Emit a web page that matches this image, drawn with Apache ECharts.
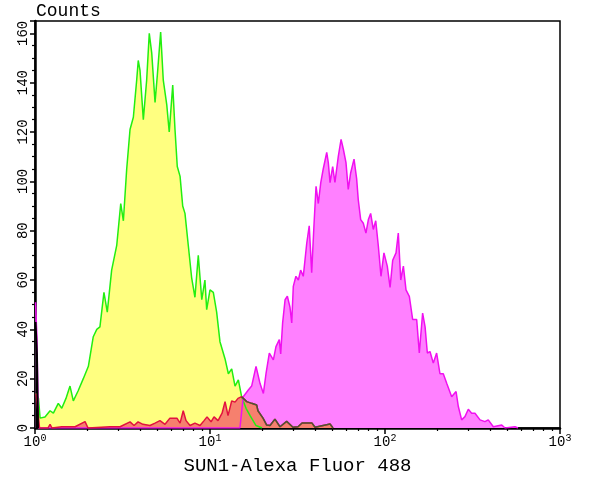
<!DOCTYPE html>
<html><head><meta charset="utf-8">
<script src="https://cdn.jsdelivr.net/npm/echarts@6/dist/echarts.min.js"></script>
<style>html,body{margin:0;padding:0;background:#fff}#c{width:600px;height:480px}</style>
</head><body><div id="c"></div>
<script>
// x values are log10(fluorescence), counts are events per channel
const decades = [0, 1, 2, 3];
const minorMultipliers = [2, 3, 4, 5, 6, 7, 8, 9];

const yellowX = [0.006,0.020,0.029,0.057,0.086,0.105,0.133,0.153,0.177,0.200,0.219,0.246,0.276,0.305,0.333,0.353,0.371,0.394,0.413,0.438,0.467,0.490,0.505,0.524,0.543,0.562,0.581,0.590,0.600,0.619,0.638,0.653,0.667,0.686,0.699,0.718,0.733,0.753,0.767,0.787,0.800,0.813,0.829,0.844,0.857,0.876,0.895,0.914,0.933,0.953,0.971,0.981,1.000,1.019,1.038,1.057,1.086,1.105,1.124,1.143,1.162,1.181,1.206,1.229,1.263,1.297];
const yellowY = [14,12,4,4.5,7,6,10,8,12,17,11,15,20,25,37,40,41,55,47,64,74,91,84,105,121,126,141,149,145,125,141,160,152,132,143,160.5,141,131,120,139,121,106,102,90,87,74,61,53,70,52,60,48,56,55,47,35,28,22,24,17,19.5,12.6,8,5,1,0];

const magentaX = [0.003,0.011,0.020,1.171,1.190,1.219,1.238,1.263,1.286,1.305,1.320,1.339,1.362,1.377,1.396,1.404,1.415,1.429,1.442,1.457,1.467,1.476,1.491,1.505,1.518,1.533,1.553,1.567,1.581,1.594,1.606,1.619,1.633,1.647,1.667,1.676,1.686,1.701,1.714,1.733,1.749,1.762,1.777,1.790,1.804,1.823,1.838,1.847,1.861,1.876,1.891,1.905,1.918,1.933,1.947,1.962,1.977,1.994,2.013,2.029,2.044,2.063,2.076,2.090,2.105,2.120,2.139,2.158,2.181,2.196,2.215,2.229,2.242,2.257,2.276,2.295,2.314,2.333,2.353,2.381,2.406,2.419,2.438,2.457,2.476,2.495,2.514,2.543,2.571,2.590,2.619,2.667,2.686,2.743,2.760];
const magentaY = [51,37,0,0,12.7,15.4,17,25,18,14,22,30.4,27.6,33,35.8,30,42.6,52,53.4,49,42.6,57.4,61.5,60,64,61.5,75,82,63,82,98,91,99.5,105,111.7,107.6,99.5,106,99.6,110,117,113,107.6,96.7,103.5,109,101,92.7,84.5,83,79,84.5,87,80.5,84,73.7,61.5,71,65.6,57,68,71,79,60,65.6,56,53.4,44,44,30.4,46.6,41,30.4,31,26.3,30.4,22,22,18,12.7,14.8,8.7,3.3,4.6,7.6,6,6,3.3,2.6,3.3,0.5,1.2,0,0.5,0];

const redX = [0.006,0.017,0.026,0.074,0.086,0.097,0.153,0.229,0.286,0.303,0.429,0.486,0.543,0.566,0.589,0.617,0.657,0.686,0.714,0.743,0.771,0.811,0.829,0.847,0.863,0.886,0.914,0.943,0.966,0.983,1.006,1.023,1.046,1.069,1.086,1.103,1.124,1.143,1.160,1.181,1.210,1.238,1.267,1.274,1.303,1.324,1.343,1.371,1.400,1.438,1.474,1.503,1.526,1.583,1.600,1.686,1.703];
const redY = [14,14,0,0,1.5,0,0.5,0.5,2.6,0,0.5,0.5,2.5,1,2.5,1.5,1,2,3,1.5,4,4,2,7,3,1,2,1,3,4.5,2.5,4.5,3,6,10.7,5,11,10.5,12,12.7,10.7,10,9.3,7,4,1.2,1,3.6,0.5,2.7,0.3,0.5,2,2,0.3,1.6,0];
const redDarkFrom = 1.181; // where the outline of the control histogram turns dark

const blackX = [0.003, 0.011, 0.017];
const blackY = [43, 30, 0];

function pairs(xs, ys) { return xs.map((x, i) => [x, ys[i]]); }

const FONT = 'Liberation Mono';
const chart = echarts.init(document.getElementById('c'));
const minorTicks = [];
decades.slice(0, 3).forEach(d => minorMultipliers.forEach(m => minorTicks.push(d + Math.log10(m))));

function histSeries(name, data, lineColor, fillColor, width) {
  const s = {
    name, type: 'line', data, showSymbol: false, symbol: 'none',
    lineStyle: { color: lineColor, width: width || 1.5 },
    itemStyle: { color: lineColor },
    animation: false
  };
  if (fillColor) s.areaStyle = { color: fillColor, opacity: 1 };
  return s;
}

const redPairs = pairs(redX, redY);
const redDark = redPairs.filter(p => p[0] >= redDarkFrom);

chart.setOption({
  animation: false,
  backgroundColor: '#fff',
  title: {
    text: 'Counts', left: 31, top: -3,
    textStyle: { fontFamily: FONT, fontSize: 18, fontWeight: 'normal', color: '#000' }
  },
  grid: { left: 35, right: 40, top: 21, bottom: 52, show: true, borderColor: '#000', borderWidth: 1.5, backgroundColor: 'transparent' },
  xAxis: [{
    type: 'value', min: 0, max: 3, interval: 1,
    name: 'SUN1-Alexa Fluor 488', nameLocation: 'middle', nameGap: 28,
    nameTextStyle: { fontFamily: FONT, fontSize: 19, color: '#000' },
    axisLine: { show: true, lineStyle: { color: '#000', width: 2.5 } },
    axisTick: { show: true, length: 6, lineStyle: { color: '#000', width: 1.5 } },
    splitLine: { show: false },
    axisLabel: {
      margin: 5, color: '#000', fontFamily: FONT,
      formatter: v => '{b|10}{s|' + v + '}',
      rich: {
        b: { fontFamily: FONT, fontSize: 14, color: '#000' },
        s: { fontFamily: FONT, fontSize: 10, color: '#000', padding: [0, 0, 9, 0] }
      }
    }
  }, {
    type: 'value', min: 0, max: 3, position: 'bottom', gridIndex: 0,
    axisLine: { show: false },
    axisLabel: { show: false },
    splitLine: { show: false },
    axisTick: { show: true, length: 3, customValues: minorTicks, lineStyle: { color: '#000', width: 1.2 } }
  }],
  yAxis: {
    type: 'value', min: 0, max: 165, interval: 20,
    axisLine: { show: true, lineStyle: { color: '#000', width: 2.5 } },
    axisTick: { show: true, length: 5, lineStyle: { color: '#000', width: 1.5 } },
    minorTick: { show: true, splitNumber: 4, length: 3, lineStyle: { color: '#000', width: 1.2 } },
    splitLine: { show: false },
    axisLabel: { rotate: 90, margin: 5, color: '#000', fontFamily: FONT, fontSize: 14, showMaxLabel: false }
  },
  series: [
    histSeries('yellow', pairs(yellowX, yellowY), '#22ee11', '#ffff80'),
    histSeries('magenta', pairs(magentaX, magentaY), '#f010f0', '#ff80ff'),
    histSeries('red', redPairs, '#e2123f', '#f6806e'),
    histSeries('redOutline', redDark, '#4d5634', null),
    histSeries('black', pairs(blackX, blackY), '#000000', '#000000', 2)
  ]
});
</script></body></html>
